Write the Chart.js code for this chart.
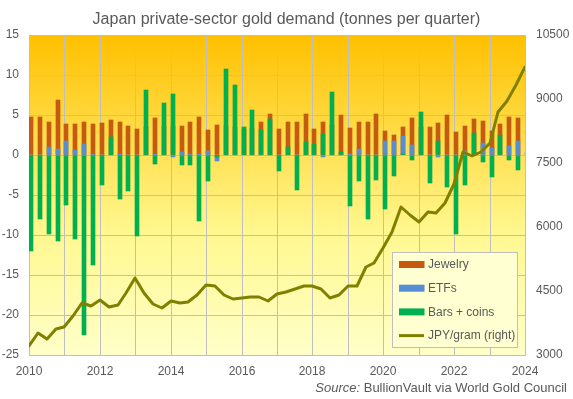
<!DOCTYPE html>
<html>
<head>
<meta charset="utf-8">
<title>Japan private-sector gold demand</title>
<script src="https://cdn.jsdelivr.net/npm/chart.js@4.4.1/dist/chart.umd.min.js"></script>
<style>
  html, body { margin: 0; padding: 0; background: #fff; }
  #wrap { width: 573px; height: 399px; position: relative; }
</style>
</head>
<body>
<div id="wrap"><canvas id="goldChart"></canvas></div>
<script>
// Quarterly data, 2010 Q1 to 2024 Q1 (tonnes, JPY per gram)
const quarters = [
  '2010 Q1', '2010 Q2', '2010 Q3', '2010 Q4', '2011 Q1', '2011 Q2', '2011 Q3', '2011 Q4',
  '2012 Q1', '2012 Q2', '2012 Q3', '2012 Q4', '2013 Q1', '2013 Q2', '2013 Q3', '2013 Q4',
  '2014 Q1', '2014 Q2', '2014 Q3', '2014 Q4', '2015 Q1', '2015 Q2', '2015 Q3', '2015 Q4',
  '2016 Q1', '2016 Q2', '2016 Q3', '2016 Q4', '2017 Q1', '2017 Q2', '2017 Q3', '2017 Q4',
  '2018 Q1', '2018 Q2', '2018 Q3', '2018 Q4', '2019 Q1', '2019 Q2', '2019 Q3', '2019 Q4',
  '2020 Q1', '2020 Q2', '2020 Q3', '2020 Q4', '2021 Q1', '2021 Q2', '2021 Q3', '2021 Q4',
  '2022 Q1', '2022 Q2', '2022 Q3', '2022 Q4', '2023 Q1', '2023 Q2', '2023 Q3', '2023 Q4',
  '2024 Q1'
];
const jewelry = [
  4.7, 4.7, 4.1, 6.9, 3.9, 3.9, 4.1, 3.9,
  4.0, 4.4, 4.1, 3.6, 3.25, 3.5, 4.6, 3.6,
  3.6, 3.6, 4.1, 4.7, 3.1, 3.8, 3.6, 3.5,
  3.3, 3.4, 4.1, 5.1, 3.25, 4.1, 4.1, 5.1,
  3.25, 4.1, 3.8, 5.0, 3.4, 4.1, 4.1, 5.1,
  3.0, 2.5, 3.45, 4.6, 3.5, 3.5, 4.0, 5.0,
  2.9, 3.6, 4.5, 4.3, 3.0, 3.9, 4.75, 4.6,
  null
];
const etfs = [
  0, 0, 1.0, 0.75, 1.7, 0.67, 1.4, 0.1,
  0, 0, 0.1, 0, 0, 0, 0.1, 0,
  -0.25, 0.4, 0.1, 0.1, 0.5, -0.8, 0, 0,
  0, 0, 0, 0, 0, 0, 0, 0,
  0, -0.25, 0, 0, 0.1, 0.75, 0, 0,
  1.75, 1.75, 2.4, 1.25, 0, 0, -0.25, 0,
  0, 0.5, 0, 1.5, 0.9, 0, 1.1, 1.75,
  0.4
];
const barsCoins = [
  -12.0, -8.0, -9.9, -10.7, -6.25, -10.5, -22.5, -13.75,
  -3.8, 2.2, -5.5, -4.5, -10.1, 8.1, -1.1, 6.5,
  7.6, -1.25, -1.25, -8.3, -3.3, -0.3, 10.75, 8.75,
  3.5, 5.6, 3.1, 4.5, -2.0, 1.0, -4.4, 1.6,
  1.4, 2.6, 7.9, 0.4, -6.4, -3.3, -8.0, -3.1,
  -6.75, -2.6, 0.1, -0.6, 5.4, -3.5, 1.75, -4.0,
  -9.9, -3.75, 2.75, -0.9, -2.75, 2.5, -0.6, -1.9,
  null
];
const jpyPerGram = [
  3200, 3520, 3380, 3600, 3650, 3910, 4210, 4160,
  4300, 4130, 4165, 4445, 4800, 4445, 4195, 4100,
  4255, 4210, 4250, 4410, 4640, 4625, 4405, 4305,
  4345, 4350, 4365, 4275, 4420, 4470, 4540, 4610,
  4610, 4555, 4330, 4415, 4610, 4610, 5055, 5150,
  5500, 5890, 6480, 6280, 6110, 6360, 6320, 6555,
  7000, 7765, 7665, 7760, 7960, 8700, 8950, 9330,
  9760
];

// Axis ticks
const yearGrid = [2010, 2011, 2012, 2013, 2014, 2015, 2016, 2017, 2018, 2019, 2020, 2021, 2022, 2023, 2024];
const yearLabels = [2010, 2012, 2014, 2016, 2018, 2020, 2022, 2024];
const tonneTicks = [-25, -20, -15, -10, -5, 0, 5, 10, 15];
const yenTicks = [3000, 4500, 6000, 7500, 9000, 10500];

const FONT = '"Liberation Sans", Arial, sans-serif';
const TEXT = '#595959';
const GRID = '#BFBFBF';
const BAR_SHIFT = 0.055;

// quarter label -> decimal year
const quarterX = quarters.map(q => {
  const [yr, qq] = q.split(' Q');
  return Number(yr) + (Number(qq) - 1) / 4;
});
const barPoints = values => values.map((v, i) => ({ x: quarterX[i] + BAR_SHIFT, y: v }));

// Helper to force ticks from an array
const fixedTicks = list => scale => { scale.ticks = list.map(v => ({ value: v })); };

// Gradient behind the plot area
const plotBackground = {
  id: 'plotBackground',
  beforeDraw(chart) {
    const { ctx, chartArea: a } = chart;
    const g = ctx.createLinearGradient(0, a.top, 0, a.bottom);
    g.addColorStop(0, '#FFC000');
    g.addColorStop(0.35, '#FFE052');
    g.addColorStop(0.62, '#FFF890');
    g.addColorStop(1, '#FFFFC8');
    ctx.save();
    ctx.fillStyle = g;
    ctx.fillRect(a.left, a.top, a.width, a.height);
    ctx.restore();
  }
};

// Boxed legend in the lower right of the plot
const boxLegend = {
  id: 'boxLegend',
  afterDraw(chart) {
    const ctx = chart.ctx;
    const box = { x: 392, y: 252, w: 126, h: 96 };
    ctx.save();
    ctx.fillStyle = '#FFFFD2';
    ctx.strokeStyle = GRID;
    ctx.lineWidth = 1;
    ctx.fillRect(box.x, box.y, box.w, box.h);
    ctx.strokeRect(box.x + 0.5, box.y + 0.5, box.w - 1, box.h - 1);
    ctx.font = '12px ' + FONT;
    ctx.textBaseline = 'middle';
    chart.data.datasets.forEach((ds, i) => {
      const y = box.y + 12.5 + i * 23.7;
      if (ds.type === 'line') {
        ctx.strokeStyle = ds.borderColor;
        ctx.lineWidth = 3;
        ctx.beginPath();
        ctx.moveTo(399, y);
        ctx.lineTo(424, y);
        ctx.stroke();
      } else {
        ctx.fillStyle = ds.backgroundColor;
        ctx.fillRect(399, y - 3.5, 25.5, 7);
      }
      ctx.fillStyle = TEXT;
      ctx.fillText(ds.label, 428, y + 0.5);
    });
    ctx.restore();
  }
};

// Source line under the x axis
const sourceNote = {
  id: 'sourceNote',
  afterDraw(chart) {
    const ctx = chart.ctx;
    const right = 567, y = 388;
    const rest = ' BullionVault via World Gold Council';
    ctx.save();
    ctx.textBaseline = 'middle';
    ctx.fillStyle = TEXT;
    ctx.font = '13px ' + FONT;
    const w = ctx.measureText(rest).width;
    ctx.textAlign = 'right';
    ctx.fillText(rest, right, y);
    ctx.font = 'italic 13px ' + FONT;
    ctx.fillText('Source:', right - w, y);
    ctx.restore();
  }
};

new Chart(document.getElementById('goldChart'), {
  type: 'bar',
  data: {
    datasets: [
      { label: 'Jewelry', data: barPoints(jewelry), backgroundColor: '#C55A11', order: 3 },
      { label: 'ETFs', data: barPoints(etfs), backgroundColor: '#558ED5', order: 2 },
      { label: 'Bars + coins', data: barPoints(barsCoins), backgroundColor: '#00B050', order: 1 },
      {
        label: 'JPY/gram (right)', type: 'line', yAxisID: 'y1', order: 0,
        data: jpyPerGram.map((v, i) => ({ x: quarterX[i], y: v })),
        borderColor: '#808000', borderWidth: 3, pointRadius: 0, tension: 0,
        borderJoinStyle: 'round', borderCapStyle: 'round', clip: 0
      }
    ]
  },
  options: {
    responsive: true,
    maintainAspectRatio: false,
    animation: false,
    datasets: {
      bar: { grouped: false, barThickness: 4, clip: 0, yAxisID: 'y' }
    },
    layout: { padding: 0 },
    plugins: {
      legend: { display: false },
      tooltip: { enabled: false },
      title: {
        display: true,
        text: 'Japan private-sector gold demand (tonnes per quarter)',
        color: TEXT,
        font: { family: FONT, size: 16, weight: 'normal' },
        padding: { top: 10, bottom: 5.8 }
      }
    },
    scales: {
      x: {
        type: 'linear',
        min: 2010,
        max: 2024,
        offset: false,
        alignToPixels: true,
        afterBuildTicks: fixedTicks(yearGrid),
        afterFit: s => { s.height = 44; },
        grid: { color: GRID, offset: false, drawTicks: false },
        border: { color: GRID },
        ticks: {
          autoSkip: false,
          maxRotation: 0,
          padding: 9,
          color: TEXT,
          font: { family: FONT, size: 12 },
          callback: v => (yearLabels.includes(v) ? String(v) : '')
        }
      },
      y: {
        position: 'left',
        min: -25,
        max: 15,
        alignToPixels: true,
        afterBuildTicks: fixedTicks(tonneTicks),
        afterFit: s => { s.width = 29; },
        grid: { color: GRID, drawTicks: false },
        border: { color: GRID },
        ticks: { padding: 10, color: TEXT, font: { family: FONT, size: 12 }, callback: v => String(v) }
      },
      y1: {
        position: 'right',
        min: 3000,
        max: 10500,
        alignToPixels: true,
        afterBuildTicks: fixedTicks(yenTicks),
        afterFit: s => { s.width = 48; },
        grid: { drawOnChartArea: false, drawTicks: false },
        border: { color: GRID },
        ticks: { padding: 11, color: TEXT, font: { family: FONT, size: 12 }, callback: v => String(v) }
      }
    }
  },
  plugins: [plotBackground, boxLegend, sourceNote]
});
</script>
</body>
</html>
